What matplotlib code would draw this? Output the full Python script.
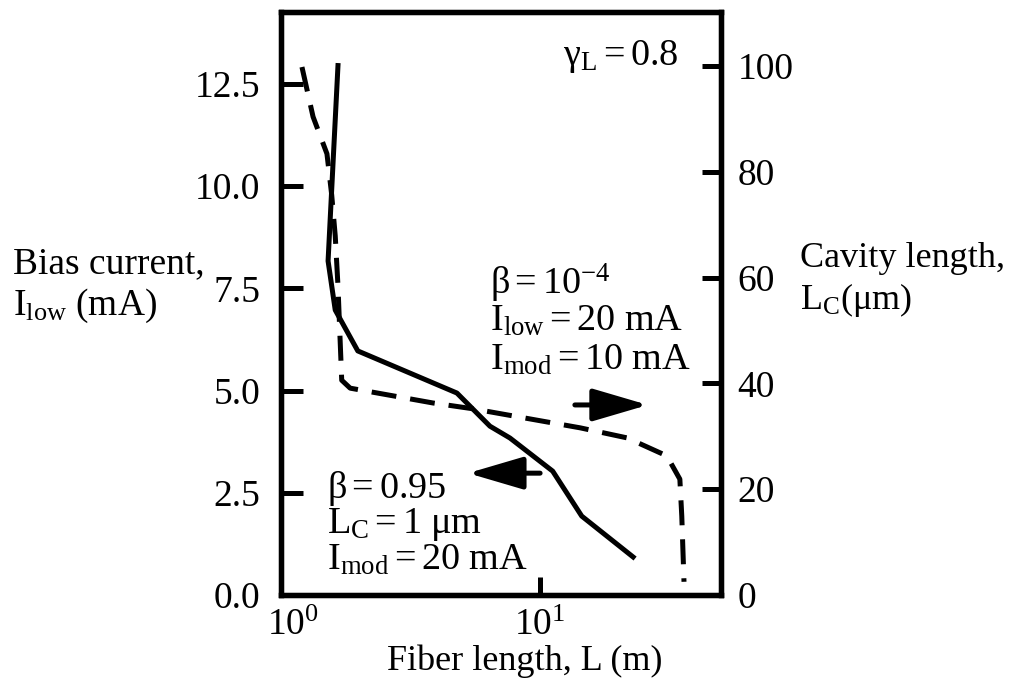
import matplotlib
matplotlib.use('Agg')
import matplotlib.pyplot as plt
from matplotlib.ticker import FixedLocator, FormatStrFormatter, NullLocator
from matplotlib.transforms import ScaledTranslation

plt.rcParams['font.family'] = ['Liberation Serif', 'DejaVu Serif']
plt.rcParams['mathtext.fontset'] = 'custom'
plt.rcParams['mathtext.rm'] = 'Liberation Serif'
plt.rcParams['mathtext.it'] = 'Liberation Serif:italic'
plt.rcParams['mathtext.bf'] = 'Liberation Serif:bold'
plt.rcParams['font.size'] = 27

# beta = 0.95 : bias current vs fiber length (left axis)
fiber_solid = [1.66, 1.52, 1.62, 1.98, 4.78, 6.41, 7.66, 11.2, 14.5, 22.9]
bias_solid = [12.95, 8.17, 6.97, 5.97, 4.94, 4.13, 3.84, 3.03, 1.93, 0.93]

# beta = 1e-4 : cavity length vs fiber length (right axis)
fiber_dash = [1.205, 1.33, 1.505, 1.57, 1.62, 1.66, 1.716, 1.85, 3.86, 5.51,
              14.3, 21.7, 30.9, 34.7, 35.3, 36.0]
cavity_dash = [99.8, 90.4, 83.4, 75.6, 67.9, 58.4, 40.6, 39.1, 36.3, 35.2,
               31.6, 29.7, 26.3, 21.9, 14.9, 2.5]

x_ticks = [1, 10]
bias_ticks = [0, 2.5, 5, 7.5, 10, 12.5]
cavity_ticks = [0, 20, 40, 60, 80, 100]

fig = plt.figure(figsize=(10.1, 6.78), dpi=100)
ax = fig.add_axes([0.2782, 0.1224, 0.4356, 0.8599])
ax.set_xscale('log')
ax.set_xlim(1, 50)
ax.set_ylim(0, 14.26)
ax2 = ax.twinx()
ax2.set_ylim(0, 110.2)

ax.plot(fiber_solid, bias_solid, color='black', lw=3.6)
ax2.plot(fiber_dash, cavity_dash, color='black', lw=3.6, dashes=(5, 2.8))

ax.xaxis.set_major_locator(FixedLocator(x_ticks))
ax.xaxis.set_minor_locator(NullLocator())
ax.yaxis.set_major_locator(FixedLocator(bias_ticks))
ax.yaxis.set_major_formatter(FormatStrFormatter('%.1f'))
ax2.yaxis.set_major_locator(FixedLocator(cavity_ticks))

ax.tick_params(axis='x', which='both', direction='in', length=13, width=3.6,
               pad=10, top=False)
ax.tick_params(axis='y', direction='in', length=16, width=3.6, pad=15,
               right=False)
ax2.tick_params(axis='y', direction='in', length=14, width=3.6, pad=12,
                left=False)
for a in (ax, ax2):
    for sp in a.spines.values():
        sp.set_linewidth(3.8)

# nudge the 10^0 label off the frame corner
first = ax.xaxis.get_major_ticks()[0].label1
first.set_transform(first.get_transform()
                    + ScaledTranslation(0.12, 0, fig.dpi_scale_trans))

ax.set_xlabel('Fiber length, L (m)', va='baseline', fontsize=26)
ax.xaxis.set_label_coords(0.555, -0.129)
ax.set_ylabel('Bias current,\n$\\mathrm{I_{low}}$ (mA)', rotation=0,
              ha='left', va='center', multialignment='left')
ax.yaxis.set_label_coords(-0.609, 0.53)
ax2.set_ylabel('Cavity length,\n$\\mathrm{L_C}$($\\mathrm{μ}$m)', rotation=0,
               ha='left', va='center', multialignment='left', fontsize=26)
ax2.yaxis.set_label_coords(1.18, 0.539)

note = dict(transform=ax.transAxes, fontsize=27.5)
ax.text(0.641, 0.909, r'$\mathrm{γ_L} = 0.8$', **note)

ax.text(0.475, 0.516, r'$\mathrm{β} = 10^{-4}$', **note)
ax.text(0.475, 0.454, r'$\mathrm{I_{low}} = 20\ \mathrm{mA}$', **note)
ax.text(0.475, 0.387, r'$\mathrm{I_{mod}} = 10\ \mathrm{mA}$', **note)

ax.text(0.1045, 0.166, r'$\mathrm{β} = 0.95$', **note)
ax.text(0.1045, 0.106, r'$\mathrm{L_C} = 1\ \mathrm{μm}$', **note)
ax.text(0.1045, 0.044, r'$\mathrm{I_{mod}} = 20\ \mathrm{mA}$', **note)

arrow = dict(arrowstyle='-|>,head_length=1.7,head_width=0.5', mutation_scale=20,
             lw=3.6, color='black', shrinkA=0, shrinkB=0)
ax.annotate('', xy=(0.834, 0.326), xytext=(0.668, 0.326),
            xycoords='axes fraction', arrowprops=arrow)
ax.annotate('', xy=(0.425, 0.209), xytext=(0.589, 0.209),
            xycoords='axes fraction', arrowprops=arrow)

fig.savefig('out.png', dpi=100)
